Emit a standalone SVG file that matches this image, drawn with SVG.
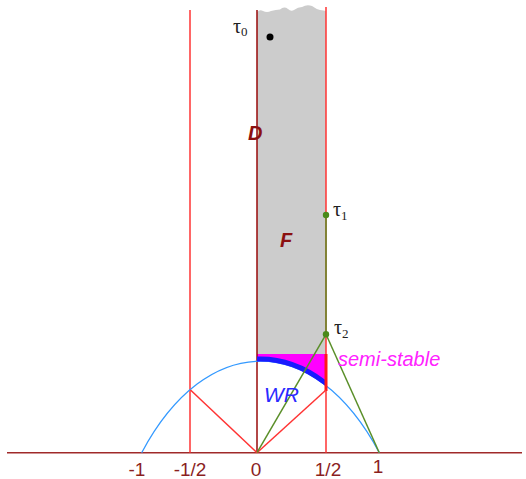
<svg xmlns="http://www.w3.org/2000/svg" width="526" height="479" viewBox="0 0 526 479">
<style>
.ax{font-family:"Liberation Sans",Arial,sans-serif;font-size:19px;fill:#8b1f1f;text-anchor:middle}
.lbl{font-family:"Liberation Sans",Arial,sans-serif;font-style:italic;font-weight:bold;font-size:20px;fill:#8b1010}
.tau{font-family:"Liberation Serif","DejaVu Serif",serif;font-size:20px;fill:#222}
.sub{font-size:13px}
.red{stroke:#ff3333;stroke-width:1.5;fill:none}
.green{stroke:#5a8f29;stroke-width:1.5;fill:none}
</style>
<defs>
<clipPath id="above">
<path d="M0,0 H526 V452.7 H379.3 C314.3,330.7 206.7,330.7 141.7,452.7 H0 Z"/>
</clipPath>
<clipPath id="strip">
<rect x="257" y="340" width="70" height="70"/>
</clipPath>
</defs>
<g id="region-F">
<path d="M257,12 Q260,9 263,11 Q267,13 271,11 Q276,9.5 280,9.5 Q284,6 288,9 Q291,12 294,10 Q298,7 302,7 Q307,4 312,6 Q316,9 320,10 Q324,10.5 326,11 V354 H257 Z" fill="#cccccc"/>
</g>
<g id="region-semistable">
<rect x="257" y="354" width="69" height="45" fill="#ff00ff" clip-path="url(#above)"/>
</g>
<g id="connectors">
<line x1="7" y1="452.7" x2="522" y2="452.7" stroke="#a02a2a" stroke-width="1.5"/>
<line x1="190" y1="10" x2="190" y2="452.7" class="red"/>
<line x1="326" y1="7" x2="326" y2="452.7" class="red"/>
<line x1="326" y1="215" x2="326" y2="334.3" class="green"/>
<line x1="257" y1="10" x2="257" y2="452.7" stroke="#990a0a" stroke-width="1.5"/>
<path d="M141.7,452.7 C206.7,330.7 314.3,330.7 379.3,452.7" stroke="#3399ff" stroke-width="1.3" fill="none"/>
<path d="M141.7,452.7 C206.7,330.7 314.3,330.7 379.3,452.7" stroke="#1a1aff" stroke-width="5" fill="none" transform="translate(0,-2.2)" clip-path="url(#strip)"/>
<line x1="326" y1="354" x2="326" y2="391" stroke="#ff1a1a" stroke-width="3"/>
<line x1="257" y1="452.7" x2="190.5" y2="390" class="red"/>
<line x1="257" y1="452.7" x2="326" y2="390" class="red"/>
<line x1="326" y1="334.3" x2="257" y2="452.7" class="green"/>
<line x1="326" y1="334.3" x2="379.3" y2="452.7" class="green"/>
</g>
<g id="tau0">
<circle cx="270" cy="37" r="3.5" fill="#000"/>
<text x="233" y="33" class="tau">τ<tspan class="sub" dy="3">0</tspan></text>
</g>
<g id="tau1">
<circle cx="326" cy="215" r="3.2" fill="#4a8a1a"/>
<text x="333" y="216" class="tau">τ<tspan class="sub" dy="4">1</tspan></text>
</g>
<g id="tau2">
<circle cx="326" cy="334.3" r="3.2" fill="#4a8a1a"/>
<text x="334" y="334" class="tau">τ<tspan class="sub" dy="4">2</tspan></text>
</g>
<g id="labels">
<text x="248" y="140" class="lbl">D</text>
<text x="280" y="247" class="lbl">F</text>
<text x="338" y="366" font-family="Liberation Sans,Arial,sans-serif" font-style="italic" font-size="20" fill="#ff22ff">semi-stable</text>
<text x="264" y="402" font-family="Liberation Sans,Arial,sans-serif" font-style="italic" font-size="21" fill="#2a2aff">WR</text>
</g>
<g id="axis-labels">
<text x="137" y="476" class="ax">-1</text>
<text x="190" y="476" class="ax">-1/2</text>
<text x="256" y="476" class="ax">0</text>
<text x="328" y="476" class="ax">1/2</text>
<text x="378" y="473" class="ax">1</text>
</g>
</svg>
